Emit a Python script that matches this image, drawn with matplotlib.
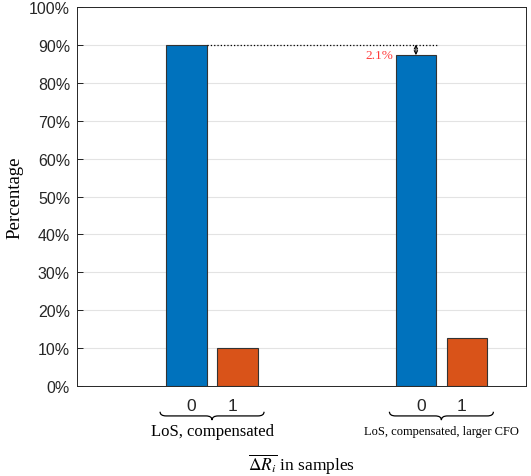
import numpy as np
import matplotlib.pyplot as plt
from matplotlib.path import Path
from matplotlib.patches import PathPatch
import matplotlib.transforms as mtransforms

# data
groups = ['LoS, compensated', 'LoS, compensated, larger CFO']
tick_labels = ['0', '1']
pct_0 = [90.1, 87.3]   # share with mean delta R = 0
pct_1 = [9.9, 12.7]    # share with mean delta R = 1
diff_label = '2.1%'

blue = '#0072BD'
orange = '#D95319'

fig = plt.figure(figsize=(5.31, 4.77), dpi=100)
ax = fig.add_axes([0.145, 0.1887, 0.8456, 0.7945])

centers = np.array([0.0, 4.5])
x0 = centers
x1 = centers + 1.0
w = 0.8
ax.bar(x0, pct_0, width=w, color=blue, edgecolor='#333333', linewidth=0.8, zorder=3)
ax.bar(x1, pct_1, width=w, color=orange, edgecolor='#333333', linewidth=0.8, zorder=3)

ax.set_xlim(-2.15, 6.66)
ax.set_ylim(0, 100)
ax.set_yticks(np.arange(0, 101, 10))
ax.set_yticklabels([f'{v}%' for v in range(0, 101, 10)],
                   family='Liberation Sans', fontsize=11.5, color='#262626')
# labels sit slightly inward of the bar centres, as in the original
ax.set_xticks(np.concatenate([x0 + 0.1, x1 - 0.1]))
ax.set_xticklabels(tick_labels[:1] * 2 + tick_labels[1:] * 2,
                   family='Liberation Sans', fontsize=12.5, color='#262626')
ax.tick_params(axis='x', length=0, pad=9)
ax.tick_params(axis='y', direction='in', length=4, width=0.6, pad=5, right=False)
ax.grid(axis='y', color='#e3e3e3', linewidth=0.8, zorder=0)
ax.set_axisbelow(True)
for s in ax.spines.values():
    s.set_color('#262626')
    s.set_linewidth(0.7)

ax.set_ylabel('Percentage', family='Liberation Serif', fontsize=13.5, labelpad=4)

# dotted reference line and difference arrow
ax.plot([x0[0] + w / 2, 4.91], [pct_0[0], pct_0[0]], ls=':', color='black', lw=0.9, zorder=4)
ax.annotate('', xy=(x0[1], pct_0[1]), xytext=(x0[1], pct_0[0]),
            arrowprops=dict(arrowstyle='<->', color='black', lw=0.8,
                            shrinkA=0, shrinkB=0, mutation_scale=6), zorder=5)
ax.text(4.05, 87.4, diff_label, color='#ff3b3b', family='Liberation Serif',
        fontsize=9.5, ha='right', va='center')

# braces under each group
trans = mtransforms.blended_transform_factory(ax.transData, ax.transAxes)

def brace(xa, xb, ytop, h, r):
    xm = (xa + xb) / 2
    ymid = ytop - h / 2
    verts = [(xa, ytop), (xa, ymid), (xa + r, ymid),
             (xm - r, ymid),
             (xm, ymid), (xm, ytop - h),
             (xm, ymid), (xm + r, ymid),
             (xb - r, ymid),
             (xb, ymid), (xb, ytop)]
    codes = [Path.MOVETO, Path.CURVE3, Path.CURVE3,
             Path.LINETO,
             Path.CURVE3, Path.CURVE3,
             Path.CURVE3, Path.CURVE3,
             Path.LINETO,
             Path.CURVE3, Path.CURVE3]
    p = PathPatch(Path(verts, codes), transform=trans, fill=False,
                  lw=0.9, color='black', clip_on=False)
    ax.add_patch(p)

for c in centers:
    brace(c - 0.52, c + 1.52, -0.068, 0.022, 0.12)

ax.text(centers[0] + 0.5, -0.118, groups[0], transform=trans, ha='center', va='center',
        family='Liberation Serif', fontsize=12)
ax.text(centers[1] + 0.5, -0.118, groups[1], transform=trans, ha='center', va='center',
        family='Liberation Serif', fontsize=9)

ax.text(0.5, -0.205, r'$\overline{\Delta R_i}$ in samples', transform=ax.transAxes,
        ha='center', va='center', family='Liberation Serif', fontsize=12.5,
        math_fontfamily='stix')

fig.savefig('out.png', dpi=100)
